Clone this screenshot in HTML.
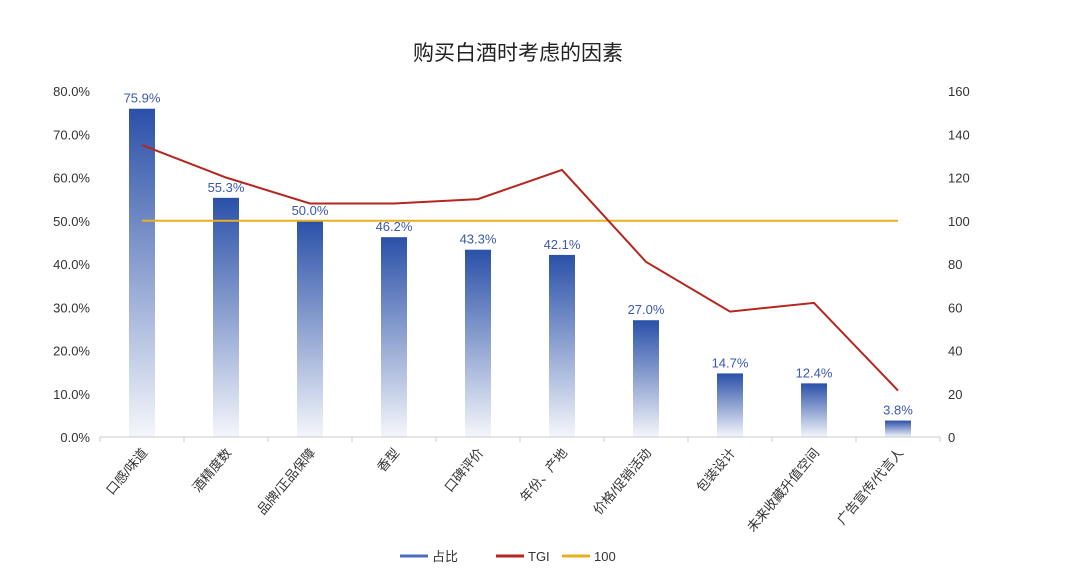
<!DOCTYPE html>
<html><head><meta charset="utf-8"><style>
body{margin:0;background:#fff;width:1080px;height:581px;overflow:hidden}
svg text{font-family:"Liberation Sans","Noto Sans CJK SC",sans-serif}
</style></head><body>
<svg id="c" width="1080" height="581">
<defs><linearGradient id="g" x1="0" y1="0" x2="0" y2="1"><stop offset="0" stop-color="#2a50a8"/><stop offset="1" stop-color="#2a50a8" stop-opacity="0.05"/></linearGradient></defs>
<text x="518" y="60" text-anchor="middle" font-size="21" fill="#222">购买白酒时考虑的因素</text>
<g id="plot"></g>
<g>
<line x1="400" y1="556" x2="428" y2="556" stroke="#4a6cc0" stroke-width="3"/><text x="432" y="561" font-size="13" fill="#333">占比</text>
<line x1="496" y1="556" x2="524" y2="556" stroke="#b5261e" stroke-width="3"/><text x="528" y="561" font-size="13" fill="#333">TGI</text>
<line x1="562" y1="556" x2="590" y2="556" stroke="#e8b020" stroke-width="3"/><text x="594" y="561" font-size="13" fill="#333">100</text>
</g>
</svg>
<script>
const categories=["口感/味道","酒精度数","品牌/正品保障","香型","口碑评价","年份、产地","价格/促销活动","包装设计","未来收藏升值空间","广告宣传/代言人"];
const shares=[75.9,55.3,50.0,46.2,43.3,42.1,27.0,14.7,12.4,3.8];
const tgi=[135,120,108,108,110,123.5,81,58,62,21.5];
const baseline=[100,100,100,100,100,100,100,100,100,100];
const leftTicks=[0,10,20,30,40,50,60,70,80];
const rightTicks=[0,20,40,60,80,100,120,140,160];
const NS="http://www.w3.org/2000/svg",g=document.getElementById('plot');
const y0=437,y1=91,x0=100,step=84;
const yL=v=>y0-(v/80)*(y0-y1), yR=v=>y0-(v/160)*(y0-y1), xC=i=>x0+step*(i+0.5);
function mk(t,a,p){const e=document.createElementNS(NS,t);for(const k in a)e.setAttribute(k,a[k]);(p||g).appendChild(e);return e;}
leftTicks.forEach(v=>{const t=mk('text',{x:90,y:yL(v)+5,'text-anchor':'end','font-size':13,fill:'#333'});t.textContent=v.toFixed(1)+'%';

});
rightTicks.forEach(v=>{const t=mk('text',{x:948,y:yR(v)+5,'font-size':13,fill:'#333'});t.textContent=v;

});
const ax=mk('line',{x1:x0,y1:y0,x2:x0+step*10,y2:y0,stroke:'#ccc'});


for(let i=0;i<=10;i++)mk('line',{x1:x0+step*i,y1:y0,x2:x0+step*i,y2:y0+5,stroke:'#ccc'});
shares.forEach((v,i)=>{const r=mk('rect',{x:xC(i)-13,y:yL(v),width:26,height:y0-yL(v),fill:'url(#g)'});


const t=mk('text',{x:xC(i),y:yL(v)-6,'text-anchor':'middle','font-size':13,fill:'#3a58b0'});t.textContent=v.toFixed(1)+'%';


const c=mk('text',{x:0,y:0,'text-anchor':'end','font-size':13,fill:'#333',transform:`translate(${xC(i)+6},${y0+16}) rotate(-50)`});c.textContent=categories[i];

});
const bl=mk('polyline',{points:baseline.map((v,i)=>xC(i)+','+yR(v)).join(' '),fill:'none',stroke:'#e8b020','stroke-width':2});


const tl=mk('polyline',{points:tgi.map((v,i)=>xC(i)+','+yR(v)).join(' '),fill:'none',stroke:'#b5261e','stroke-width':2});


</script>
</body></html>
